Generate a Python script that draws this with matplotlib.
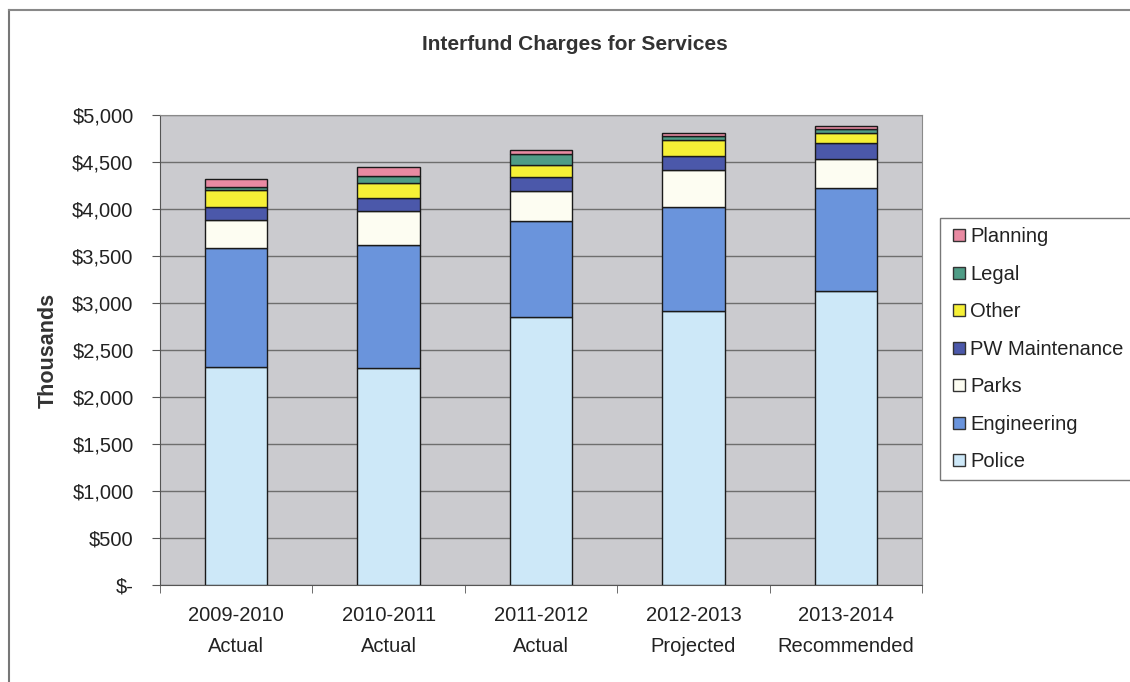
import matplotlib.pyplot as plt
import numpy as np
from matplotlib.lines import Line2D

plt.rcParams['font.family'] = ['Liberation Sans', 'DejaVu Sans']

years = ['2009-2010\nActual', '2010-2011\nActual', '2011-2012\nActual',
         '2012-2013\nProjected', '2013-2014\nRecommended']

# thousands of dollars, bottom to top
police = [2320, 2310, 2850, 2920, 3130]
engineering = [1266, 1308, 1021, 1106, 1096]
parks = [298, 361, 320, 385, 310]
pw_maintenance = [138, 139, 149, 150, 170]
other = [181, 159, 128, 170, 105]
legal = [32, 75, 115, 50, 45]
planning = [85, 98, 45, 30, 30]

series = [
    ('Police', police, '#cde8f8'),
    ('Engineering', engineering, '#6a94dc'),
    ('Parks', parks, '#fdfdf2'),
    ('PW Maintenance', pw_maintenance, '#4b58aa'),
    ('Other', other, '#f6f036'),
    ('Legal', legal, '#4f9c86'),
    ('Planning', planning, '#e98aa2'),
]

fig = plt.figure(figsize=(11.3, 6.82), dpi=100)
ax = fig.add_axes([160/1130, 97/682, 762/1130, 470/682])
ax.set_facecolor('#cbcbcf')

x = np.arange(len(years))
bottom = np.zeros(len(years))
handles = []
for name, vals, col in series:
    ax.bar(x, vals, 0.41, bottom=bottom, color=col, edgecolor='#1a1a1a',
           linewidth=1.0, zorder=3)
    bottom += np.array(vals)
    handles.append(Line2D([], [], marker='s', linestyle='none', markersize=8,
                          markerfacecolor=col, markeredgecolor='#333333',
                          label=name))

ax.set_xlim(-0.5, len(years) - 0.5)
ax.set_ylim(0, 5000)
yt = np.arange(0, 5001, 500)
ax.set_yticks(yt)
ax.set_yticklabels(['$-'] + ['${:,}'.format(v) for v in yt[1:]])
ax.yaxis.grid(True, color='#6e6e6e', linewidth=1.0, zorder=0)
ax.set_axisbelow(True)

ax.set_xticks(x)
ax.set_xticklabels(years, fontsize=14.5, linespacing=1.8, color='#222222')
ax.set_xticks(np.arange(-0.5, len(years), 1), minor=True)
ax.tick_params(axis='x', which='major', length=0, pad=15)
ax.tick_params(axis='x', which='minor', length=6, color='#555555')
ax.tick_params(axis='y', labelsize=14.5, length=6, color='#555555', pad=13,
               labelcolor='#222222')

for s in ['top', 'right']:
    ax.spines[s].set_color('#8a8a8a')
for s in ['left', 'bottom']:
    ax.spines[s].set_color('#555555')

ax.set_ylabel('Thousands', fontsize=15.5, fontweight='bold', color='#333333', labelpad=10)
fig.text(575/1130, 1 - 45/682, 'Interfund Charges for Services', fontsize=15,
         fontweight='bold', color='#333333', ha='center', va='center')

leg = fig.legend(handles=handles[::-1], loc='upper left',
                 bbox_to_anchor=(940/1130, 1 - 218/682), fontsize=14.5,
                 frameon=True, fancybox=False, edgecolor='#555555',
                 labelspacing=0.92, handletextpad=0.05, handlelength=1.0,
                 borderaxespad=0, borderpad=0.45)
leg.get_frame().set_linewidth(1.0)
for t in leg.get_texts():
    t.set_color('#222222')

# outer frame lines
fig.add_artist(Line2D([9/1130, 9/1130], [0, 1 - 10/682], transform=fig.transFigure,
                      color='#777777', linewidth=1.5))
fig.add_artist(Line2D([9/1130, 1], [1 - 10/682, 1 - 10/682], transform=fig.transFigure,
                      color='#888888', linewidth=1.5))

fig.savefig('out.png', dpi=100)
